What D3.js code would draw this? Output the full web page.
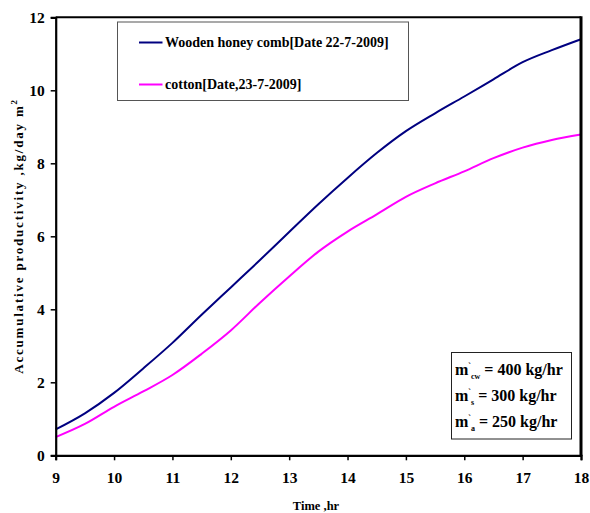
<!DOCTYPE html>
<html><head><meta charset="utf-8">
<script src="https://cdn.jsdelivr.net/npm/d3@7/dist/d3.min.js"></script>
<style>body{margin:0;background:#fff}svg{display:block}</style>
</head><body><svg id="c" width="590" height="513"></svg>
<script>
const hours = [9,9.5,10,10.5,11,11.5,12,12.5,13,13.5,14,14.5,15,15.5,16,16.5,17,17.5,18];
const wooden = [0.71,1.15,1.71,2.38,3.08,3.85,4.6,5.35,6.12,6.88,7.6,8.28,8.88,9.37,9.83,10.3,10.77,11.1,11.4];
const cotton = [0.5,0.86,1.33,1.75,2.2,2.78,3.42,4.18,4.9,5.58,6.13,6.6,7.08,7.45,7.78,8.14,8.43,8.64,8.79];
const xTicks = [9,10,11,12,13,14,15,16,17,18];
const yTicks = [0,2,4,6,8,10,12];
const seriesNames = ["Wooden honey comb[Date 22-7-2009]","cotton[Date,23-7-2009]"];
const colors = ["#000080","#ff00ff"];
const notes = [["cw","400"],["s","300"],["a","250"]];
const FONT = "Liberation Serif, Times New Roman, Tinos, DejaVu Serif, serif";

const svg = d3.select("#c");
const L=55.7,R=581,T=17.3,B=455.3;
const x = d3.scaleLinear().domain([9,18]).range([L,R]);
const y = d3.scaleLinear().domain([0,12]).range([B,T]);

const line = d3.line().x((d,i)=>x(hours[i])).y(d=>y(d)).curve(d3.curveMonotoneX);
[wooden,cotton].forEach((s,k)=>{
  svg.append("path").attr("d",line(s)).attr("fill","none").attr("stroke",colors[k]).attr("stroke-width",2);
});

svg.append("line").attr("x1",L).attr("x2",R).attr("y1",T).attr("y2",T).attr("stroke","#000").attr("stroke-width",2);
svg.append("line").attr("x1",R).attr("x2",R).attr("y1",T-1).attr("y2",B+1).attr("stroke","#000").attr("stroke-width",3);

const xa = svg.append("g").attr("transform",`translate(0,${B})`)
  .call(d3.axisBottom(x).tickValues(xTicks).tickSize(5).tickPadding(12).tickFormat(d3.format("d")));
const ya = svg.append("g").attr("transform",`translate(${L},0)`)
  .call(d3.axisLeft(y).tickValues(yTicks).tickSize(5).tickPadding(6).tickFormat(d3.format("d")));
[xa,ya].forEach(a=>{
  a.attr("font-family",FONT).attr("font-weight","bold");
  a.select(".domain").attr("stroke","#000").attr("stroke-width",2.2);
  a.selectAll(".tick line").attr("stroke","#000").attr("stroke-width",1.5);
  a.selectAll(".tick text").style("font-family",FONT).style("font-weight","bold").attr("font-size",15.5).attr("fill","#000");
});

const g = svg.append("g").style("font-family",FONT).style("font-weight","bold").attr("fill","#000");

g.append("text").attr("x",316).attr("y",510).attr("text-anchor","middle").attr("font-size",12.5).text("Time ,hr");
const yt = g.append("text").attr("transform","translate(23,236) rotate(-90)").attr("text-anchor","middle")
  .attr("font-size",13).attr("letter-spacing",1.8);
yt.append("tspan").text("Accumulative productivity ,kg/day m");
yt.append("tspan").attr("font-size",9).attr("dy",-6).text("2");

g.append("rect").attr("x",117.5).attr("y",22).attr("width",291).attr("height",78.5).attr("fill","#fff").attr("stroke","#555").attr("stroke-width",1);
[42.5,84.5].forEach((yy,k)=>{
  g.append("line").attr("x1",139).attr("x2",162.5).attr("y1",yy).attr("y2",yy).attr("stroke",colors[k]).attr("stroke-width",2);
  g.append("text").attr("x",165).attr("y",yy+4.5).attr("font-size",14).text(seriesNames[k]);
});

g.append("rect").attr("x",451.5).attr("y",352.5).attr("width",120).attr("height",86.5).attr("fill","#fff").attr("stroke","#222").attr("stroke-width",1);
notes.forEach((n,i)=>{
  const t = g.append("text").attr("x",455).attr("y",375+i*26).attr("font-size",16);
  t.append("tspan").text("m");
  t.append("tspan").attr("font-size",8).attr("dy",-6).text("`");
  t.append("tspan").attr("font-size",8).attr("dy",10).text(n[0]);
  t.append("tspan").attr("dy",-4).text((n[0].length>1?" ":"  ")+"= "+n[1]+" kg/hr");
});
</script></body></html>
